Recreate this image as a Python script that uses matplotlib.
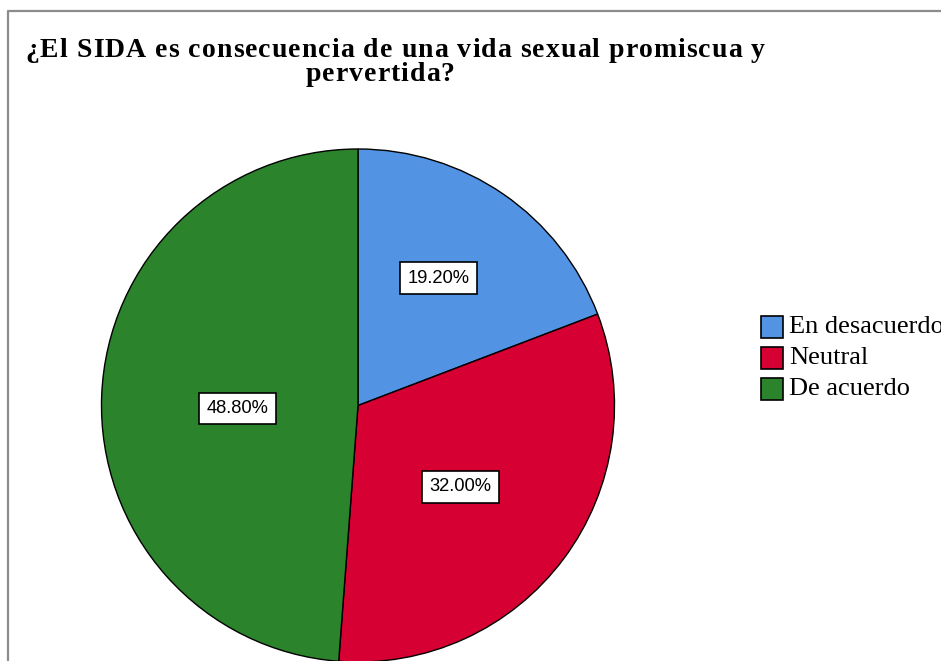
import matplotlib
matplotlib.use("Agg")
import matplotlib.pyplot as plt
from matplotlib import font_manager
from matplotlib.ft2font import FT2Font
import numpy as np

title_lines = ["¿El SIDA es consecuencia de una vida sexual promiscua y", "pervertida?"]
categories = ["En desacuerdo", "Neutral", "De acuerdo"]
percents = [19.2, 32.0, 48.8]
colors = ["#5393E3", "#D60032", "#2B842B"]
label_r = [0.587, 0.51, 0.469]   # label radius as fraction of pie radius
label_shift = [2.3, -1.8, 3.6]   # degrees off the wedge middle

W, H = 941, 661
DPI = 100
fig = plt.figure(figsize=(W / DPI, H / DPI), dpi=DPI)
ax = fig.add_axes([0, 0, 1, 1])

# frame (only left and top visible in the crop)
ax.plot([8, 8, W + 5], [-5, 650, 650], color="#8c8c8c", lw=1.6, solid_capstyle="butt")

cx, cy, R = 358, H - 405.5, 256.5
wedges, _ = ax.pie(percents, colors=colors, startangle=90, counterclock=False,
                   center=(cx, cy), radius=R, frame=True,
                   wedgeprops=dict(edgecolor="black", linewidth=1.0))
ax.set_xlim(0, W); ax.set_ylim(0, H)
ax.set_aspect("equal")
ax.axis("off")

for w, p, rf, sh in zip(wedges, percents, label_r, label_shift):
    th = np.deg2rad((w.theta1 + w.theta2) / 2 + sh)
    x = cx + rf * R * np.cos(th)
    y = cy + rf * R * np.sin(th)
    ax.text(x, y, f"{p:.2f}%", ha="center", va="center", fontsize=13.2,
            family="Liberation Sans",
            bbox=dict(boxstyle="square,pad=0.4", fc="white", ec="black", lw=1.2))

# title: slightly letter-spaced, so each character is placed on its own
TSIZE = 20
title_fp = font_manager.FontProperties(family="Liberation Serif", weight="bold", size=TSIZE)
ft = FT2Font(font_manager.findfont(title_fp))
ft.set_size(TSIZE, DPI)

def advances(s):
    return [ft.load_char(ord(ch)).linearHoriAdvance / 65536 for ch in s]

adv1 = advances(title_lines[0])
track = (740 - sum(adv1)) / (len(adv1) - 1)

def tracked(s, xc, ybase):
    adv = advances(s)
    total = sum(adv) + track * (len(adv) - 1)
    x = xc - total / 2
    for ch, a in zip(s, adv):
        ax.text(x, ybase, ch, ha="left", va="baseline", fontproperties=title_fp)
        x += a + track

tracked(title_lines[0], 395, H - 57)
tracked(title_lines[1], 380, H - 81)

# legend
for i, (c, lab) in enumerate(zip(colors, categories)):
    y = H - (327 + 31 * i)
    ax.add_patch(plt.Rectangle((761, y - 11), 22, 22, fc=c, ec="black", lw=1.2))
    ax.text(789, y, lab, ha="left", va="center", fontsize=19, family="Liberation Serif")

fig.savefig("out.png", dpi=DPI)
